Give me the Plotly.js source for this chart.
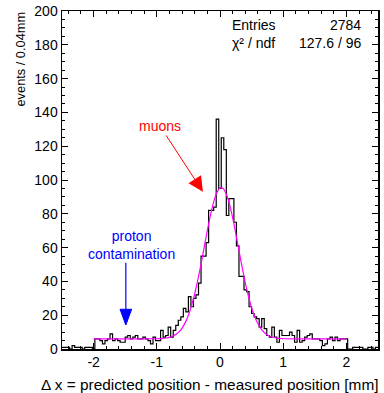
<!DOCTYPE html>
<html><head><meta charset="utf-8">
<script src="https://cdn.plot.ly/plotly-3.0.1.min.js"></script>
<style>html,body{margin:0;padding:0;background:#fff}#plot{width:384px;height:393px}</style>
</head><body><div id="plot"></div>
<script>
// histogram: bins of 0.04 mm starting at -2.5
const histStart = -2.5;
const binWidth = 0.04;
const counts = [
  1,1,1,0,2,1,1,1,0,1,1,1,0,
  6,6,5,3,5,6,9,5,6,5,4,4,7,8,6,7,8,6,
  6,7,6,5,3,7,5,5,11,7,8,13,7,11,14,17,19,24,22,31,25,30,32,39,55,55,63,82,82,84,136,95,125,118,79,89,89,75,61,43,
  43,35,34,25,21,19,18,13,18,12,8,7,13,7,4,11,8,8,8,10,8,4,11,4,5,7,8,9,6,6,6,5,2,3,6,7,5,7,5,6,6,6,
  0,0,1,1,1,1,0,0,1,1,0,1
];
// fit curve points
const fitX = [-2.0,-1.5,-1.0,-0.95,-0.9,-0.85,-0.8,-0.75,-0.7,-0.65,-0.6,-0.55,-0.5,-0.45,-0.4,-0.35,-0.3,-0.25,-0.2,-0.15,-0.1,-0.05,0.0,0.05,0.1,0.15,0.2,0.25,0.3,0.35,0.4,0.45,0.5,0.55,0.6,0.65,0.7,0.75,0.8,0.85,0.9,0.95,1.0,1.5,2.0];
const fitY = [6.0,6.0,6.07,6.14,6.27,6.5,6.89,7.53,8.56,10.1,12.4,15.6,20.0,25.7,32.7,41.0,50.3,60.3,70.2,79.4,87.1,92.5,95.3,95.0,91.6,85.7,77.7,68.3,58.3,48.4,39.2,31.2,24.4,19.0,14.9,11.9,9.76,8.32,7.38,6.79,6.44,6.24,6.12,6.0,6.0];
const xTickVals = [-2,-1,0,1,2];
const yTickVals = [0,20,40,60,80,100,120,140,160,180,200];
const statLabels = ['Entries','χ² / ndf'];
const statValues = ['2784','127.6 / 96'];

const edges = [];
const stepY = [];
for (let i = 0; i <= counts.length; i++) {
  edges.push(histStart + i * binWidth);
  stepY.push(counts[Math.min(i, counts.length - 1)]);
}

const font = 'Liberation Sans, Arial, Helvetica, sans-serif';
const traces = [
  {x: edges, y: stepY, type: 'scatter', mode: 'lines', line: {shape: 'hv', color: 'black', width: 1.2}, hoverinfo: 'skip'},
  {x: fitX, y: fitY, type: 'scatter', mode: 'lines', line: {shape: 'spline', smoothing: 0.6, color: '#ff00ff', width: 1.2}, hoverinfo: 'skip'}
];

const L = 62, R = 378, T = 11, B = 349;
const px = X => (X - L) / (R - L);
const py = Y => (B - Y) / (B - T);

const annotations = [
  {xref: 'paper', yref: 'paper', x: px(230), y: py(25), xanchor: 'left', yanchor: 'middle', text: statLabels[0], showarrow: false, font: {size: 14, color: 'black', family: font}},
  {xref: 'paper', yref: 'paper', x: px(363), y: py(25), xanchor: 'right', yanchor: 'middle', text: statValues[0], showarrow: false, font: {size: 14, color: 'black', family: font}},
  {xref: 'paper', yref: 'paper', x: px(230), y: py(43), xanchor: 'left', yanchor: 'middle', text: statLabels[1], showarrow: false, font: {size: 14, color: 'black', family: font}},
  {xref: 'paper', yref: 'paper', x: px(363), y: py(43), xanchor: 'right', yanchor: 'middle', text: statValues[1], showarrow: false, font: {size: 14, color: 'black', family: font}},
  {xref: 'paper', yref: 'paper', x: px(20), y: py(10), xanchor: 'center', yanchor: 'top', textangle: -90, text: 'events / 0.04mm', showarrow: false, font: {size: 12.8, color: 'black', family: font}},
  {xref: 'paper', yref: 'paper', x: px(381), y: py(384), xanchor: 'right', yanchor: 'middle', text: 'Δ x = predicted position - measured position [mm]', showarrow: false, font: {size: 15.4, color: 'black', family: font}},
  {x: -0.27, y: 93, ax: -0.95, ay: 132, xref: 'x', yref: 'y', axref: 'x', ayref: 'y', text: 'muons', showarrow: true, arrowhead: 2, arrowsize: 3, arrowwidth: 1, arrowcolor: '#ff0000', font: {size: 14, color: '#ff0000', family: font}},
  {x: -1.4, y: 61.5, xref: 'x', yref: 'y', text: 'proton<br>contamination', showarrow: false, align: 'center', font: {size: 14, color: '#0000ff', family: font}}
];

const shapes = [
  {type: 'line', xref: 'x', yref: 'y', x0: -1.49, x1: -1.49, y0: 51, y1: 22, line: {color: '#0000ff', width: 1.2}},
  {type: 'path', xref: 'x', yref: 'y', path: 'M -1.49 14.2 L -1.582 23.5 L -1.398 23.5 Z', fillcolor: '#0000ff', line: {color: '#0000ff', width: 1}}
];

const axisCommon = {
  showgrid: false, zeroline: false, showline: true, linecolor: 'black', linewidth: 1.5,
  mirror: 'ticks', ticks: 'inside', ticklen: 6, tickwidth: 1, tickcolor: 'black',
  tickfont: {size: 14, color: 'black', family: font}
};

const layout = {
  width: 384, height: 393,
  margin: {l: L, r: 384 - R, t: T, b: 393 - B},
  paper_bgcolor: 'white', plot_bgcolor: 'white',
  showlegend: false,
  xaxis: Object.assign({}, axisCommon, {range: [-2.5, 2.5], tickvals: xTickVals, ticktext: xTickVals.map(String),
    minor: {dtick: 0.2, tick0: 0, ticks: 'inside', ticklen: 3, tickcolor: 'black', showgrid: false}}),
  yaxis: Object.assign({}, axisCommon, {range: [0, 200], tickvals: yTickVals, ticktext: yTickVals.map(String),
    minor: {dtick: 5, tick0: 0, ticks: 'inside', ticklen: 3, tickcolor: 'black', showgrid: false}}),
  annotations: annotations,
  shapes: shapes
};

Plotly.newPlot('plot', traces, layout, {staticPlot: true, displayModeBar: false});
</script>
</body></html>
